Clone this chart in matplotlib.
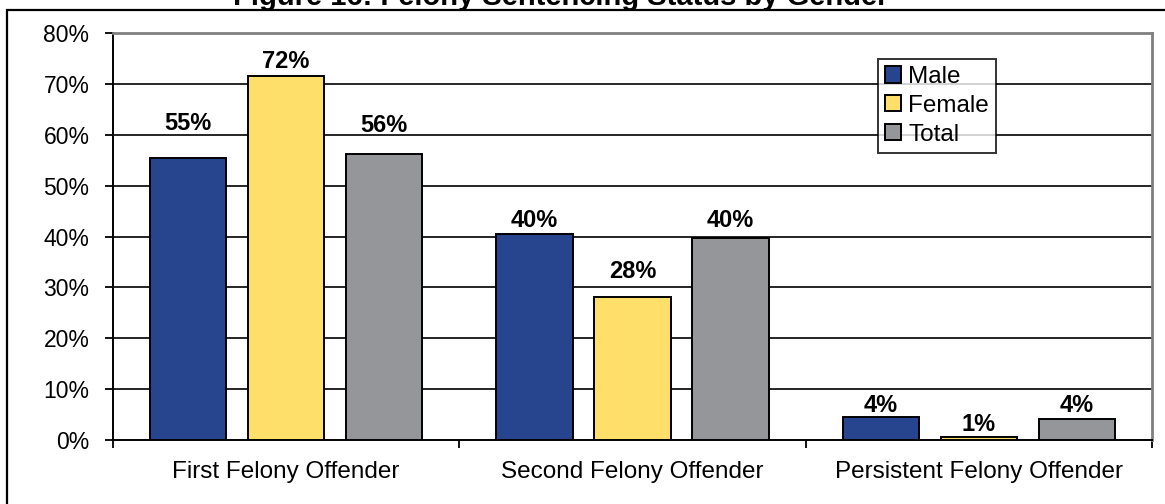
import matplotlib
matplotlib.use('Agg')
import matplotlib.pyplot as plt
import matplotlib.patches as patches
import numpy as np

plt.rcParams['font.family'] = ['Liberation Sans', 'DejaVu Sans']

title = 'Figure 16: Felony Sentencing Status by Gender'
categories = ['First Felony Offender', 'Second Felony Offender', 'Persistent Felony Offender']
series_names = ['Male', 'Female', 'Total']
male = [55.4, 40.4, 4.5]
female = [71.6, 28.1, 0.6]
total = [56.3, 39.7, 4.1]
y_ticks = [0, 10, 20, 30, 40, 50, 60, 70, 80]

colors = ['#27448f', '#fddf6a', '#959699']
# gap between bar top and label baseline, pixels (labels were hand placed)
label_gap = [[28, 7, 5], [8, 19, 6], [22, 11, 7]]

fig = plt.figure(figsize=(11.65, 5.04), dpi=100)
ax = fig.add_axes([113 / 1165, 1 - 440 / 504, 1039 / 1165, 407 / 504])

x = np.arange(len(categories))
width = 0.22
step = 0.283
for i, vals in enumerate([male, female, total]):
    xs = x + (i - 1) * step
    ax.bar(xs, vals, width, color=colors[i], edgecolor='black', linewidth=1.4,
           label=series_names[i], zorder=3)
    for j, v in enumerate(vals):
        ax.annotate('%.0f%%' % v, (xs[j], v), xytext=(0, label_gap[i][j]),
                    textcoords='offset pixels', ha='center', va='baseline',
                    fontsize=17, fontweight='bold', zorder=4)

ax.set_xlim(-0.5, 2.5)
ax.set_ylim(0, 80)
ax.set_yticks(y_ticks)
ax.set_yticklabels(['%d%%' % t for t in y_ticks], fontsize=16.5)
ax.tick_params(axis='y', length=6, width=1.3, pad=11)
for t in y_ticks[1:-1]:
    ax.axhline(t, color='black', linewidth=1.2, zorder=1)

ax.set_xticks([-0.5, 0.5, 1.5, 2.5])
ax.set_xticklabels([])
ax.set_xticks(x, minor=True)
ax.set_xticklabels(categories, minor=True, fontsize=17.5)
ax.tick_params(axis='x', which='major', length=6, width=1.3, direction='out')
ax.tick_params(axis='x', which='minor', length=0, pad=15)

for s in ['left', 'bottom']:
    ax.spines[s].set_linewidth(1.4)
    ax.spines[s].set_color('black')
for s in ['top', 'right']:
    ax.spines[s].set_linewidth(2)
    ax.spines[s].set_color('#808080')

leg = ax.legend(loc='upper left', bbox_to_anchor=(0.736, 0.937), fontsize=17.5,
                frameon=True, fancybox=False, handlelength=0.65, handleheight=0.65,
                handletextpad=0.3, labelspacing=0.28, borderpad=0.3,
                borderaxespad=0)
leg.get_frame().set_edgecolor('black')
leg.get_frame().set_linewidth(1.4)
leg.set_zorder(5)

fig.text(561 / 1165, 1 - 5 / 504, title, ha='center', va='baseline',
         fontsize=21, fontweight='bold')

border = patches.Rectangle((7 / 1165, -0.1), 1.2, 1.1 - 10.5 / 504,
                           transform=fig.transFigure, fill=False,
                           edgecolor='black', linewidth=1.6)
fig.patches.append(border)

fig.savefig('out.png', dpi=100)
